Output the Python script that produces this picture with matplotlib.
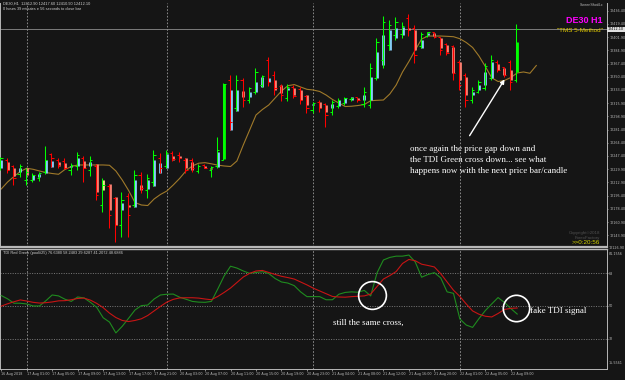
import matplotlib
matplotlib.use("Agg")
import matplotlib.pyplot as plt
import numpy as np

# ---------------- data ----------------
bar_high = [12246.3, 12245.0, 12235.5, 12236.8, 12231.6, 12225.4, 12226.7, 12260.2, 12250.7, 12244.2,
            12244.2, 12237.7, 12252.0, 12247.2, 12247.6, 12236.8, 12218.2, 12210.7, 12194.2, 12200.7,
            12198.6, 12229.0, 12226.7, 12223.8, 12255.0, 12250.7, 12255.0, 12253.7, 12252.0, 12245.0,
            12245.0, 12236.4, 12236.4, 12234.2, 12271.5, 12342.6, 12352.7, 12352.3, 12349.1, 12337.4,
            12361.4, 12352.7, 12375.7, 12357.9, 12340.9, 12340.9, 12339.6, 12336.6, 12326.6, 12317.9,
            12320.1, 12315.8, 12320.1, 12322.3, 12324.4, 12324.4, 12324.4, 12337.4, 12367.9, 12400.4,
            12429.5, 12424.3, 12428.2, 12421.7, 12432.1, 12417.8, 12409.0, 12409.0, 12409.0, 12402.5,
            12393.9, 12391.7, 12372.2, 12354.9, 12337.4, 12346.1, 12367.9, 12378.7, 12372.2, 12363.5,
            12372.2, 12419.1]
bar_low = [12229.0, 12224.7, 12209.4, 12220.2, 12209.4, 12213.7, 12215.0, 12223.8, 12232.5, 12231.2,
           12229.9, 12222.5, 12229.0, 12213.7, 12221.5, 12189.9, 12174.7, 12153.0, 12135.2, 12141.3,
           12141.3, 12181.2, 12198.6, 12192.1, 12208.5, 12224.7, 12231.2, 12240.7, 12239.8, 12224.7,
           12226.7, 12224.7, 12231.2, 12220.2, 12231.2, 12242.0, 12281.0, 12306.2, 12310.6, 12315.8,
           12327.9, 12336.6, 12338.3, 12326.6, 12319.2, 12319.2, 12323.1, 12314.9, 12302.8, 12302.8,
           12304.9, 12285.3, 12300.6, 12309.3, 12313.6, 12319.2, 12318.0, 12310.6, 12309.3, 12346.1,
           12361.4, 12385.2, 12398.2, 12400.8, 12403.4, 12368.3, 12387.8, 12402.5, 12400.4, 12378.7,
           12378.7, 12346.1, 12333.1, 12311.4, 12315.8, 12328.8, 12333.1, 12346.1, 12357.0, 12350.4,
           12333.1, 12343.5]
bar_open = [12231.6, 12242.0, 12234.2, 12223.8, 12216.0, 12216.0, 12218.5, 12226.4, 12249.8, 12242.0,
            12240.7, 12229.0, 12234.2, 12244.6, 12229.0, 12234.2, 12183.4, 12208.1, 12192.5, 12157.4,
            12195.1, 12183.4, 12222.5, 12202.9, 12213.3, 12244.6, 12234.2, 12251.1, 12248.5, 12242.0,
            12242.0, 12227.7, 12235.5, 12229.0, 12234.2, 12242.0, 12346.1, 12309.7, 12346.1, 12320.1,
            12330.5, 12339.6, 12372.2, 12352.7, 12338.3, 12322.7, 12337.0, 12334.4, 12325.3, 12307.1,
            12317.5, 12314.9, 12304.5, 12312.3, 12316.2, 12321.4, 12324.0, 12314.9, 12313.6, 12348.7,
            12372.2, 12391.7, 12404.7, 12406.0, 12426.9, 12413.8, 12390.4, 12403.4, 12408.6, 12402.1,
            12393.0, 12390.4, 12369.6, 12352.7, 12320.1, 12330.5, 12335.7, 12348.7, 12369.6, 12363.1,
            12369.6, 12346.1]
bar_close = [12244.6, 12229.0, 12218.5, 12234.2, 12226.4, 12222.5, 12225.1, 12242.0, 12244.6, 12235.5,
             12231.6, 12235.5, 12248.5, 12231.6, 12242.0, 12196.4, 12209.4, 12170.4, 12157.4, 12189.9,
             12170.4, 12222.5, 12205.5, 12218.5, 12248.5, 12231.6, 12251.1, 12243.3, 12244.6, 12229.0,
             12231.6, 12234.2, 12231.6, 12232.9, 12255.0, 12341.0, 12291.5, 12346.1, 12320.1, 12335.7,
             12356.6, 12351.4, 12343.5, 12335.7, 12326.6, 12337.0, 12325.3, 12320.1, 12309.7, 12316.2,
             12309.7, 12300.6, 12317.5, 12320.1, 12322.7, 12322.7, 12320.1, 12330.5, 12361.8, 12395.6,
             12421.7, 12417.8, 12421.7, 12416.5, 12411.2, 12378.7, 12406.0, 12408.6, 12402.1, 12385.2,
             12381.3, 12355.3, 12339.6, 12320.1, 12333.1, 12343.5, 12364.4, 12372.2, 12359.2, 12352.7,
             12343.5, 12412.1]
ha_open = [12231.6, 12239.4, 12231.6, 12226.4, 12231.6, 12216.0, 12219.8, 12225.1, 12232.9, 12239.4,
           12238.1, 12232.9, 12234.2, 12241.1, 12234.2, 12236.8, 12215.9, 12210.7, 12194.2, 12176.9,
           12183.4, 12181.2, 12209.4, 12203.8, 12208.5, 12225.4, 12231.2, 12247.2, 12247.2, 12244.2,
           12239.8, 12231.6, 12234.2, 12231.6, 12232.5, 12242.9, 12281.0, 12306.2, 12331.8, 12324.0,
           12330.9, 12337.4, 12343.9, 12346.1, 12339.6, 12333.1, 12335.3, 12333.1, 12326.6, 12313.6,
           12317.5, 12313.6, 12309.7, 12312.3, 12316.2, 12320.1, 12322.7, 12320.1, 12320.1, 12348.7,
           12365.7, 12385.2, 12400.8, 12404.7, 12413.8, 12411.2, 12387.8, 12404.7, 12407.3, 12400.4,
           12391.7, 12389.5, 12370.0, 12350.4, 12326.6, 12333.1, 12339.6, 12348.3, 12367.0, 12361.8,
           12359.2, 12356.6]
ha_close = [12242.0, 12229.0, 12221.1, 12231.6, 12222.5, 12222.5, 12223.8, 12242.0, 12240.7, 12234.2,
            12231.6, 12234.2, 12244.6, 12231.2, 12239.4, 12200.7, 12202.9, 12176.9, 12157.4, 12186.0,
            12180.4, 12215.9, 12202.9, 12215.9, 12242.0, 12238.5, 12249.8, 12242.0, 12244.6, 12231.2,
            12229.0, 12231.0, 12231.6, 12230.3, 12252.8, 12341.0, 12333.1, 12333.1, 12324.4, 12330.5,
            12343.9, 12350.4, 12348.4, 12333.1, 12328.8, 12335.7, 12326.6, 12320.1, 12313.6, 12314.9,
            12309.7, 12304.9, 12314.9, 12320.1, 12322.7, 12324.0, 12320.1, 12326.6, 12350.4, 12382.6,
            12404.7, 12411.2, 12413.8, 12415.1, 12411.2, 12385.2, 12398.2, 12407.3, 12403.4, 12387.4,
            12382.6, 12354.9, 12346.1, 12326.6, 12330.5, 12339.6, 12356.6, 12370.0, 12359.2, 12352.7,
            12346.1, 12395.6]
ha_kind = list("bssbsbbbbs" "sbbsbsyssb" "sbsbbbbsss" "ssssbgbbsb" "bbbssbsssb"
               "ssbbbbsbbb" "bbbbssbbss" "ssssbbbbss" "sg")
ma_values = [12204.2, 12213.3, 12220.5, 12227.0, 12231.2, 12229.9, 12227.7, 12225.7, 12224.4, 12223.4,
             12229.6, 12233.5, 12235.5, 12235.5, 12235.5, 12235.5, 12235.5, 12235.1, 12227.7, 12215.9,
             12202.3, 12186.6, 12183.4, 12182.7, 12191.2, 12197.1, 12201.6, 12209.4, 12217.9, 12227.7,
             12234.2, 12237.8, 12238.5, 12237.0, 12235.3, 12234.2, 12233.5, 12240.7, 12261.5, 12281.0,
             12300.6, 12307.7, 12313.6, 12322.7, 12331.8, 12338.7, 12340.2, 12337.0, 12334.0, 12333.1,
             12331.2, 12326.6, 12320.8, 12316.2, 12311.6, 12312.0, 12312.9, 12314.2, 12319.2, 12319.7,
             12320.1, 12327.9, 12339.6, 12356.6, 12370.2, 12385.2, 12399.5, 12403.4, 12403.4, 12403.4,
             12403.0, 12402.5, 12399.9, 12395.0, 12388.5, 12377.4, 12363.7, 12349.0, 12344.2, 12345.5,
             12349.4, 12355.3, 12356.6, 12354.9, 12365.0]
tdi_green = [55.7, 53.9, 51.5, 51.5, 51.1, 50.0, 50.0, 52.8, 56.0, 55.5,
             53.7, 52.5, 54.9, 54.4, 52.0, 49.2, 43.6, 41.2, 35.3, 38.9,
             43.3, 47.8, 50.2, 50.5, 53.8, 56.0, 56.4, 56.5, 54.8, 53.7,
             52.5, 52.1, 52.0, 52.5, 59.3, 66.4, 71.7, 70.7, 69.1, 67.8,
             68.3, 68.7, 67.7, 65.0, 63.1, 62.5, 61.1, 57.7, 55.1, 55.1,
             55.1, 53.4, 53.4, 56.4, 57.4, 57.7, 57.5, 58.5, 55.5, 68.1,
             75.1, 76.5, 77.2, 77.2, 77.8, 74.0, 65.7, 67.2, 68.2, 65.3,
             57.7, 56.9, 42.9, 39.6, 38.3, 43.1, 47.5, 51.1, 54.6, 51.9,
             48.6, 45.6]
tdi_red = [49.9, 51.2, 52.3, 53.3, 52.7, 52.0, 51.6, 51.8, 52.2, 52.8,
           52.9, 53.4, 54.1, 54.3, 53.2, 51.4, 49.1, 46.1, 43.7, 42.1,
           41.5, 42.1, 43.0, 44.8, 47.3, 49.8, 52.1, 53.6, 54.4, 54.5,
           54.5, 54.3, 53.8, 53.4, 55.2, 57.4, 59.8, 62.8, 65.8, 67.8,
           69.1, 69.4, 68.3, 67.2, 66.2, 65.5, 64.7, 63.1, 61.5, 59.7,
           58.2, 56.7, 55.2, 54.9, 54.8, 55.1, 55.3, 55.5, 56.5, 60.6,
           64.7, 66.6, 68.8, 73.2, 75.4, 74.7, 72.8, 72.1, 71.3, 67.6,
           63.1, 58.6, 55.2, 51.1, 47.3, 45.5, 44.4, 44.0, 45.9, 48.1,
           48.7, 48.9]
price_ticks = [12436.4, 12419.4, 12401.9, 12384.9, 12367.4, 12350.4, 12333.4, 12315.9, 12298.9,
               12281.4, 12264.4, 12247.4, 12229.9, 12212.9, 12195.4, 12178.4, 12160.9, 12143.9]
price_bottom_label = 12126.9
bid_price = 12412.1
tdi_levels = [68, 50, 32]
tdi_top_label = "81.1556"
tdi_bottom_label = "15.5561"
date_tick_pos = [0, 4, 8, 12, 16, 20, 24, 28, 32, 36, 40, 44, 48, 52, 56, 60, 64, 68, 72, 76, 80]
date_tick_labels = ["16 Aug 2018", "17 Aug 01:00", "17 Aug 05:00", "17 Aug 09:00", "17 Aug 13:00",
                    "17 Aug 17:00", "17 Aug 21:00", "20 Aug 03:00", "20 Aug 07:00", "20 Aug 11:00",
                    "20 Aug 15:00", "20 Aug 19:00", "20 Aug 23:00", "21 Aug 04:00", "21 Aug 08:00",
                    "21 Aug 12:00", "21 Aug 16:00", "21 Aug 20:00", "22 Aug 01:00", "22 Aug 05:00",
                    "22 Aug 09:00"]
day_separators = [4, 26, 49, 72]

# ---------------- styling ----------------
BG = "#151515"
GRID = "#9a9a9a"
FRAME = "#b8b8b8"
W, H = 625, 380
XLIM = (-0.19, 95.1)
LS = 2.45  # tiny axis label size

def box(x0, y0, x1, y1):
    return [x0 / W, 1 - y1 / H, (x1 - x0) / W, (y1 - y0) / H]

fig = plt.figure(figsize=(6.25, 3.8), dpi=100, facecolor=BG)
ax = fig.add_axes(box(0, 3, 607, 247), facecolor=BG)
ax2 = fig.add_axes(box(0, 249, 607, 369), facecolor=BG)

idx = np.arange(len(bar_high))
o = np.array(bar_open); c = np.array(bar_close)
bar_cols = np.where(c >= o, "#00ff00", "#ff0000")
body_map = {"b": "#87cefa", "s": "#fa8072", "g": "#00ff00", "y": "#f0e68c"}
body_cols = [body_map[k] for k in ha_kind]

for d in day_separators:
    ax.axvline(d, color=GRID, lw=0.6, ls=(0, (2, 2)), zorder=1)
    ax2.axvline(d, color=GRID, lw=0.6, ls=(0, (2, 2)), zorder=1)

ax.axhline(bid_price, color="#8c8c8c", lw=0.6, zorder=1)
ax.plot(np.arange(len(ma_values)), ma_values, color="#a07a2a", lw=0.8, zorder=2)

ax.vlines(idx, np.minimum(ha_open, ha_close), np.maximum(ha_open, ha_close),
          colors=body_cols, lw=2.0, zorder=3)
ax.vlines(idx - 0.12, bar_low, bar_high, colors=bar_cols, lw=0.75, zorder=4)
ax.hlines(bar_open, idx - 0.45, idx - 0.12, colors=bar_cols, lw=0.75, zorder=4)
ax.hlines(bar_close, idx - 0.12, idx + 0.25, colors=bar_cols, lw=0.75, zorder=4)

ax.set_xlim(*XLIM)
ax.set_ylim(12128.7, 12446.4)
ax.set_xticks([])
ax.yaxis.tick_right()
ax.set_yticks(price_ticks)
ax.set_yticklabels([f"{v:.2f}" for v in price_ticks])
ax.tick_params(axis="y", length=1.0, width=0.5, colors=FRAME, labelsize=LS, pad=0.6)
ax.text(1.0025, price_bottom_label, f"{price_bottom_label:.2f}", transform=ax.get_yaxis_transform(),
        fontsize=LS, color=FRAME, va="center", ha="left", clip_on=False)
ax.text(1.0015, bid_price, f"{bid_price:.2f}", transform=ax.get_yaxis_transform(),
        fontsize=LS, color="black", va="center", ha="left",
        bbox=dict(facecolor="#e0e0e0", edgecolor="none", pad=0.5), clip_on=False)

for a in (ax, ax2):
    for s in a.spines.values():
        s.set_color(FRAME)
        s.set_linewidth(0.7)
ax.spines["top"].set_visible(False)
ax.spines["bottom"].set_linewidth(1.6)
ax2.spines["top"].set_linewidth(1.0)

# TDI panel
ti = np.arange(len(tdi_green))
for lv in tdi_levels:
    ax2.axhline(lv, color=GRID, lw=0.5, ls=(0, (1.5, 2)), zorder=1)
ax2.plot(ti, tdi_green, color="#1f8c1f", lw=0.8, zorder=3)
ax2.plot(ti, tdi_red, color="#c81414", lw=0.8, zorder=3)
ax2.set_xlim(*XLIM)
ax2.set_ylim(15.6, 81.1)
ax2.yaxis.tick_right()
ax2.set_yticks(tdi_levels)
ax2.set_yticklabels([str(v) for v in tdi_levels])
ax2.tick_params(axis="y", length=1.0, width=0.5, colors=FRAME, labelsize=LS, pad=0.6)
ax2.text(1.0025, 0.975, tdi_top_label, transform=ax2.transAxes, fontsize=LS, color=FRAME,
         va="top", ha="left", clip_on=False)
ax2.text(1.0025, 0.03, tdi_bottom_label, transform=ax2.transAxes, fontsize=LS, color=FRAME,
         va="bottom", ha="left", clip_on=False)
ax2.set_xticks(date_tick_pos)
ax2.set_xticklabels(date_tick_labels)
ax2.tick_params(axis="x", length=1.5, width=0.5, colors=FRAME, labelsize=LS, pad=1)
for lbl in ax2.get_xticklabels():
    lbl.set_ha("left")

# annotations in the TDI panel
ax2.plot([58.16], [56.0], marker="o", ms=20, mfc="none", mec="white", mew=1.2, zorder=5)
ax2.plot([80.8], [48.7], marker="o", ms=19, mfc="none", mec="white", mew=1.2, zorder=5)
serif = ["Liberation Serif", "DejaVu Serif"]
ax2.text(52.1, 40.9, "still the same cross,", color="white", fontsize=6.5, family=serif,
         ha="left", va="center")
ax2.text(83.0, 47.3, "fake TDI signal", color="white", fontsize=6.5, family=serif,
         ha="left", va="center")

# annotations in price panel
lines = ["once again the price gap down and",
         "the TDI Green cross down... see what",
         "happens now with the next price bar/candle"]
for ln, yv in zip(lines, [12255.9, 12242.0, 12228.1]):
    ax.text(64.2, yv, ln, color="white", fontsize=6.5, family=serif, ha="left", va="center")
ax.annotate("", xy=(79.25, 12350.0), xytext=(73.3, 12270.6),
            arrowprops=dict(arrowstyle="-|>", color="white", lw=1.0, mutation_scale=6))

sans = ["Liberation Sans", "DejaVu Sans"]
fig.text(584 / W, 1 - 20.5 / H, "DE30 H1", color="#ff00ff", fontsize=6.5, fontweight="bold",
         family=sans, ha="center", va="center")
fig.text(603 / W, 1 - 31 / H, "\"TMS 5-Method\"", color="#e8d000", fontsize=4.5, family=sans,
         ha="right", va="center")
fig.text(603 / W, 1 - 5 / H, "ScreenShot4.c", color="#c0c0c0", fontsize=2.6, family=sans,
         ha="right", va="center")
fig.text(3 / W, 1 - 4 / H, "DE30,H1  12412.90 12417.60 12410.90 12412.10", color="#d0d0d0",
         fontsize=2.8, family=sans, ha="left", va="center")
fig.text(3 / W, 1 - 9.5 / H, "0 hours 39 minutes e 56 seconds to close bar", color="#d0d0d0",
         fontsize=2.8, family=sans, ha="left", va="center")
fig.text(3 / W, 1 - 253 / H, "TDI Red Green (pool#25) 76.6380 58.2483 29.6287 41.2072 48.6886",
         color="#d0d0d0", fontsize=2.8, family=sans, ha="left", va="center")
fig.text(600 / W, 1 - 233 / H, "Copyright\u00a92018", color="#505050", fontsize=3.2, family=sans,
         ha="right", va="center")
fig.text(600 / W, 1 - 238 / H, "ForexFactory", color="#505050", fontsize=3.2, family=sans,
         ha="right", va="center")
fig.text(600 / W, 1 - 243 / H, ">>0:20:56", color="#d4d400", fontsize=4.5, family=sans,
         ha="right", va="center")

fig.savefig("out.png", dpi=100, facecolor=BG)
